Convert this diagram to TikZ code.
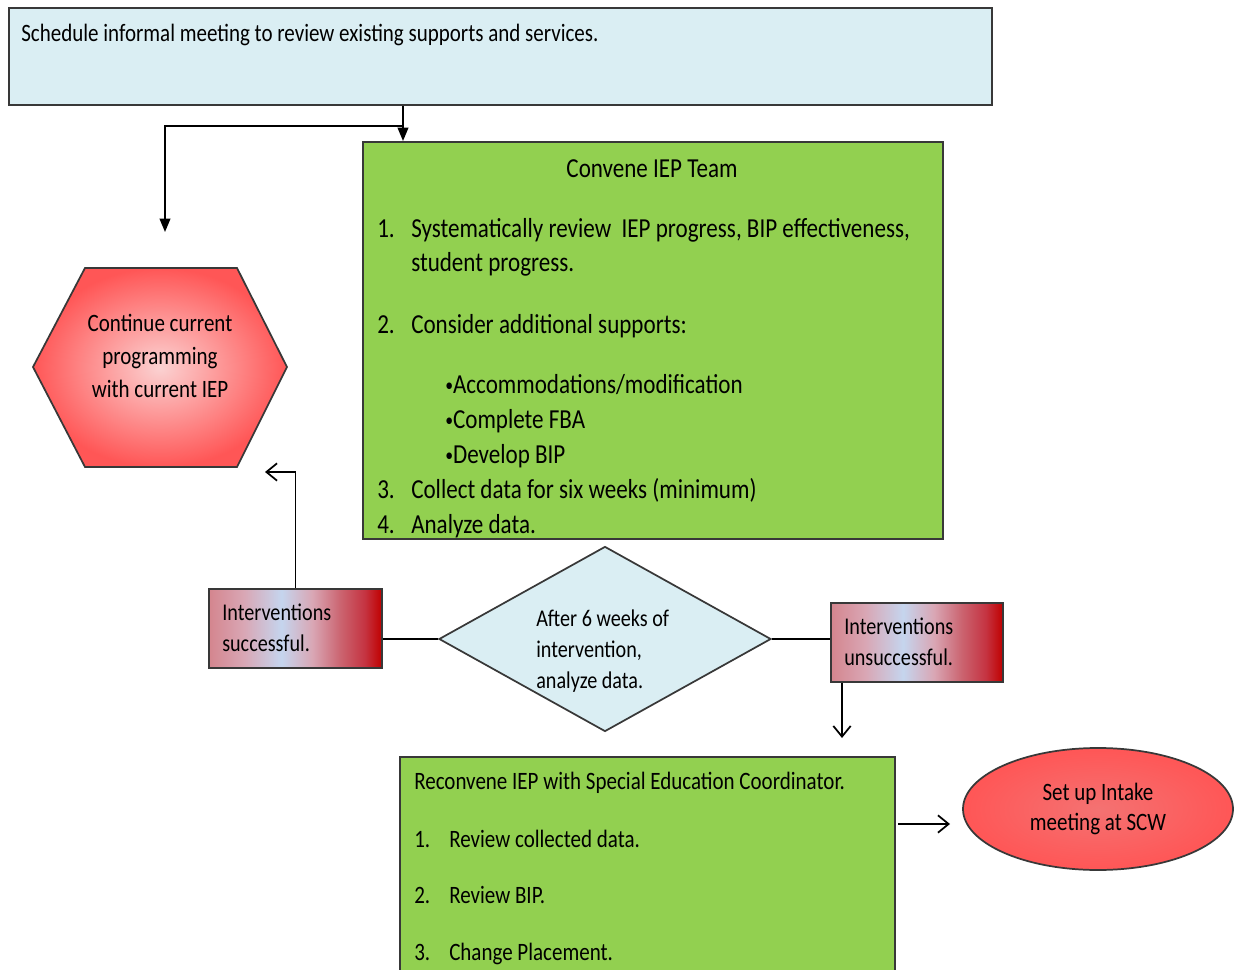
\documentclass[tikz,border=0pt]{standalone}
\usepackage{fontspec}
\setmainfont{Carlito}[FakeStretch=0.84]
\usepackage{tikz}
\usetikzlibrary{shapes.geometric,arrows.meta,positioning}

\definecolor{skyfill}{HTML}{DAEEF3}
\definecolor{leaf}{HTML}{92D050}
\definecolor{inkline}{HTML}{383838}
\definecolor{blush}{HTML}{FBD2D2}
\definecolor{warmred}{HTML}{FF5656}
\definecolor{rosered}{HTML}{F47272}
\definecolor{dustyrose}{HTML}{D4858E}
\definecolor{palerose}{HTML}{D9A6B4}
\definecolor{lilac}{HTML}{C5D5EE}
\definecolor{midrose}{HTML}{CB6470}
\definecolor{darkrose}{HTML}{C53442}
\definecolor{deepred}{HTML}{C00000}
\pgfdeclarehorizontalshading{roseblue}{100bp}{color(0bp)=(dustyrose); color(25bp)=(dustyrose);
  color(35bp)=(palerose); color(46bp)=(lilac); color(55bp)=(palerose); color(63bp)=(midrose);
  color(70bp)=(darkrose); color(75bp)=(deepred); color(100bp)=(deepred)}
\newcommand{\dotmark}{\raisebox{1.5pt}{\fontsize{14}{14}\selectfont •}}

\begin{document}
\begin{tikzpicture}[x=0.75pt,y=-0.75pt,
    font=\fontsize{18.75}{25}\selectfont,
    every node/.style={inner sep=0pt},
    panel/.style={draw=inkline, line width=1.3pt, anchor=north west},
    skybox/.style={panel, fill=skyfill},
    greenbox/.style={panel, fill=leaf},
    shadebox/.style={panel, shading=roseblue},
    txt/.style={anchor=base west, align=left},
    bigtxt/.style={txt, font=\fontsize{20.6}{25.5}\selectfont},
    smalltxt/.style={txt, font=\fontsize{18}{23}\selectfont},
    link/.style={draw=black, line width=1.3pt},
    solidtip/.style={link, -{Triangle[length=10pt,width=8pt]}},
    opentip/.style={link, -{Straight Barb[length=8pt,width=13pt]}}]
\useasboundingbox (0,0) rectangle (1236,970);
% boxes
\node[skybox, minimum width=737.25pt, minimum height=72.75pt] (meet) at (8,7) {};
\node[greenbox, minimum width=435pt, minimum height=297.75pt] (conv) at (362,141) {};
\node[shadebox, minimum width=129.75pt, minimum height=59.25pt] (win) at (208,588) {};
\node[shadebox, minimum width=129pt, minimum height=59.25pt] (lose) at (830,602) {};
\node[greenbox, minimum width=371.25pt, minimum height=165pt] (recon) at (399,756) {};
\node[diamond, draw=inkline, fill=skyfill, line width=1.3pt,
      minimum width=249pt, minimum height=138.75pt] (check) at (605,639) {};
\node[ellipse, draw=inkline, line width=1.3pt, inner color=rosered, outer color=warmred,
      minimum width=202.5pt, minimum height=91.5pt, align=center,
      font=\fontsize{18.75}{23}\selectfont] (intake) at (1098,809) {Set up Intake\\meeting at SCW};
\shadedraw[draw=inkline, line width=1.3pt, inner color=blush, outer color=warmred]
  (33,367) -- (85,268) -- (237,268) -- (287,367) -- (237,467) -- (85,467) -- cycle;
% texts
\node[txt] (meettxt) at (21,42) {Schedule informal meeting to review existing supports and services.};
\node[bigtxt, anchor=base] (convtitle) at (652,178) {Convene IEP Team};
\node[bigtxt] (n1) at (377,238) {1.};
\node[bigtxt] (t1) at (411,272)
  {Systematically review\ \ IEP progress, BIP effectiveness,\\student progress.};
\node[bigtxt] (n2) at (377,334) {2.};
\node[bigtxt] (t2) at (411,334) {Consider additional supports:};
\node[bigtxt, font=\fontsize{20.6}{26.25}\selectfont] (bullets) at (445,463)
  {\dotmark Accommodations/modification\\\dotmark Complete FBA\\\dotmark Develop BIP};
\node[bigtxt] (n3) at (377,498) {3.};
\node[bigtxt] (t3) at (411,498) {Collect data for six weeks (minimum)};
\node[bigtxt] (n4) at (377,533) {4.};
\node[bigtxt] (t4) at (411,533) {Analyze data.};
\node[align=center, font=\fontsize{18.75}{24.75}\selectfont] (keep) at (160,356)
  {Continue current\\programming\\with current IEP};
\node[smalltxt] (wintxt) at (222,651) {Interventions\\successful.};
\node[smalltxt] (losetxt) at (844,665) {Interventions\\unsuccessful.};
\node[smalltxt] (checktxt) at (536,688) {After 6 weeks of\\intervention,\\analyze data.};
\node[txt] (recontxt) at (414,789) {Reconvene IEP with Special Education Coordinator.};
\node[txt] (r1) at (414,847) {1.};
\node[txt] (s1) at (449,847) {Review collected data.};
\node[txt] (r2) at (414,903) {2.};
\node[txt] (s2) at (449,903) {Review BIP.};
\node[txt] (r3) at (414,960) {3.};
\node[txt] (s3) at (449,960) {Change Placement.};
% connectors
\coordinate (split) at (403,126);
\coordinate (keepend) at (165,232);
\coordinate (backend) at (265,472);
\coordinate (downend) at (842,738);
\coordinate (rightgo) at (950,824);
\draw[solidtip] (meet.south -| split) -- (conv.north -| split);
\draw[solidtip] (split) -| (keepend);
\draw[opentip] (win.north) |- (backend);
\draw[link] (check.west) -- (check.west -| win.east);
\draw[link] (check.east) -- (check.east -| lose.west);
\draw[opentip] (lose.south -| downend) -- (downend);
\draw[opentip] ([xshift=2pt]recon.east |- rightgo) -- (rightgo);
\end{tikzpicture}
\end{document}
